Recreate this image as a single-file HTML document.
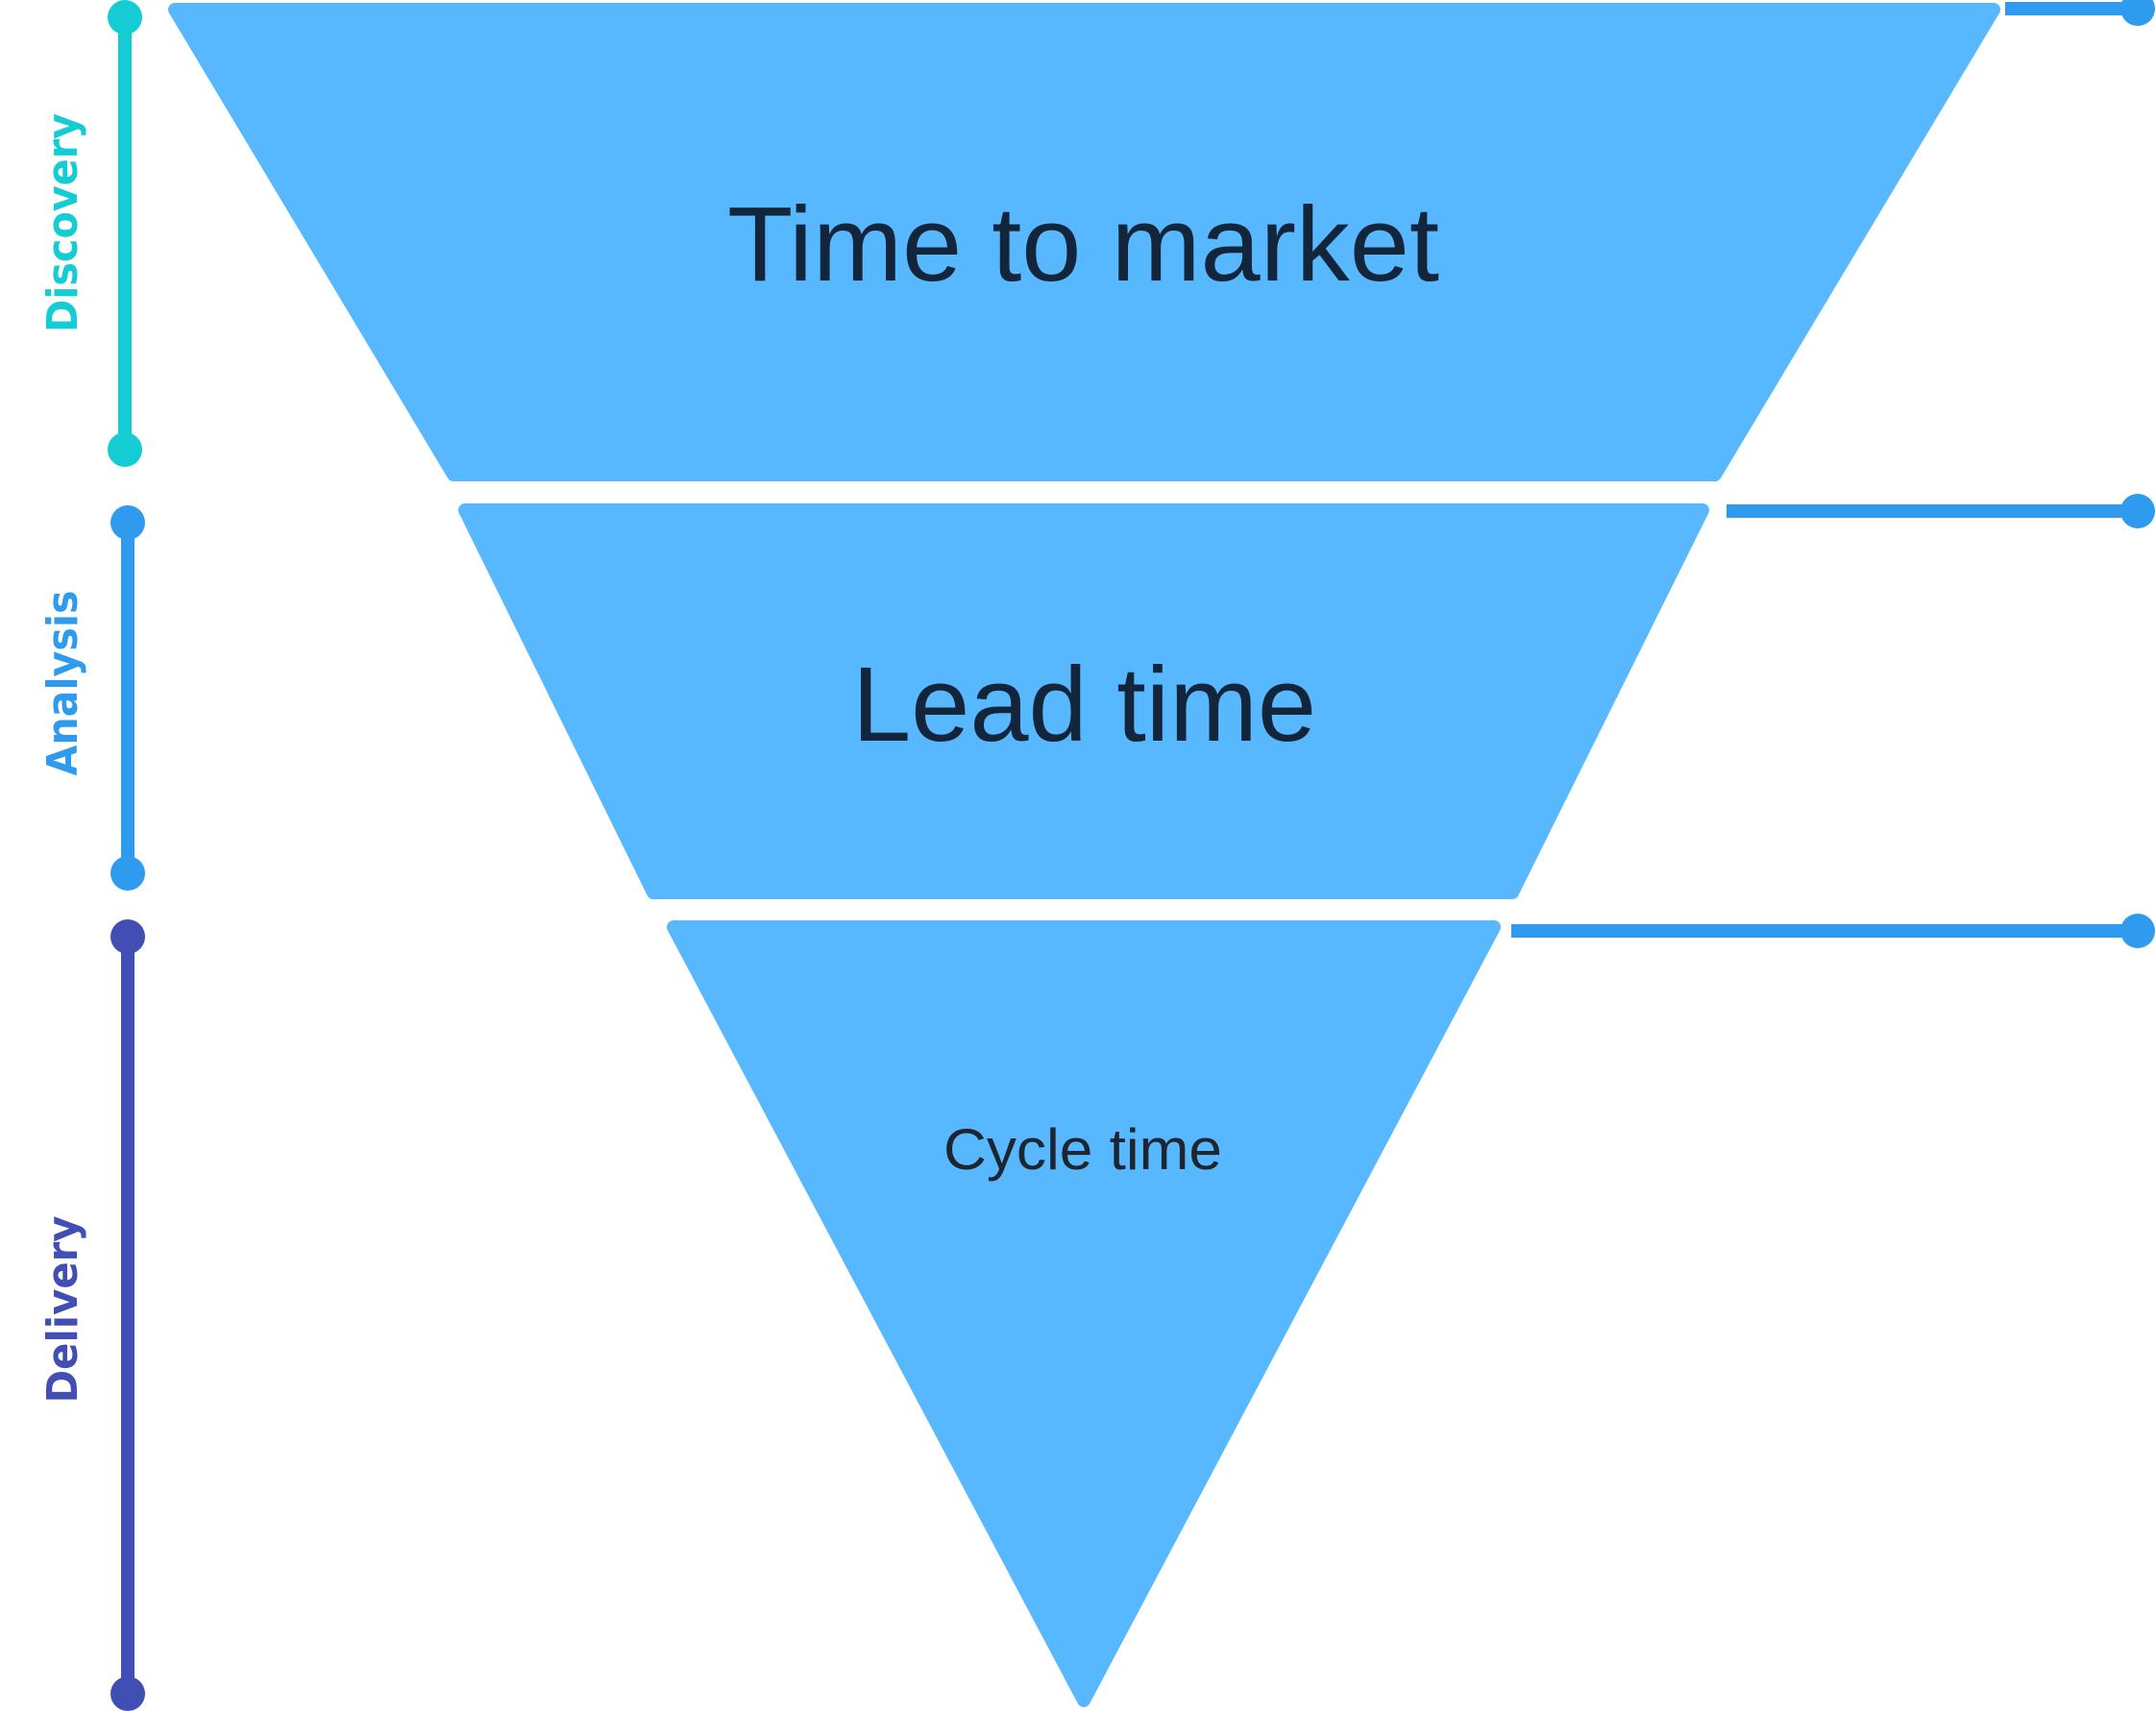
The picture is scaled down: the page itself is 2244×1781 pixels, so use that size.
<!DOCTYPE html>
<html><head><meta charset="utf-8"><style>
html,body{margin:0;padding:0;background:#fff;}
svg{display:block;}
</style></head><body>
<svg width="2244" height="1781" viewBox="0 0 2244 1781" xmlns="http://www.w3.org/2000/svg">
<g fill="#57B8FF" stroke="#57B8FF" stroke-width="14" stroke-linejoin="round">
<polygon points="182,10 2075,10 1785,494 472,494"/>
<polygon points="484,531 1772,531 1574,929 680,929"/>
<polygon points="701,965 1555,965 1128,1770"/>
</g>
<g font-family="Liberation Sans, Arial, sans-serif" fill="#13253A" text-anchor="start">
<text x="757" y="292" font-size="110" textLength="741" lengthAdjust="spacingAndGlyphs">Time to market</text>
<text x="887" y="771" font-size="110" textLength="483" lengthAdjust="spacingAndGlyphs">Lead time</text>
<text x="982" y="1217" font-size="60" fill="#1d2530" textLength="290" lengthAdjust="spacingAndGlyphs">Cycle time</text>
</g>
<!-- right connectors -->
<g fill="#2F9BEE">
<rect x="2087" y="2" width="140" height="14"/>
<circle cx="2225" cy="9" r="18"/>
<rect x="1797" y="525" width="430" height="14"/>
<circle cx="2225" cy="532" r="18"/>
<rect x="1573" y="962" width="654" height="14"/>
<circle cx="2225" cy="969" r="18"/>
</g>
<!-- left brackets -->
<g>
<rect x="123" y="18" width="14" height="450" fill="#14CDD4"/>
<circle cx="130" cy="18" r="18" fill="#14CDD4"/>
<circle cx="130" cy="468" r="18" fill="#14CDD4"/>
<rect x="126" y="544" width="14" height="365" fill="#2F9BEE"/>
<circle cx="133" cy="544" r="18" fill="#2F9BEE"/>
<circle cx="133" cy="909" r="18" fill="#2F9BEE"/>
<rect x="126" y="975" width="14" height="788" fill="#414EB3"/>
<circle cx="133" cy="975" r="18" fill="#414EB3"/>
<circle cx="133" cy="1763" r="18" fill="#414EB3"/>
</g>
<g font-family="DejaVu Sans, Liberation Sans, sans-serif" font-weight="bold" font-size="44" text-anchor="middle">
<text transform="translate(80,232) rotate(-90)" fill="#14CDD4" textLength="228" lengthAdjust="spacingAndGlyphs">Discovery</text>
<text transform="translate(80,711) rotate(-90)" fill="#2F9BEE" textLength="193" lengthAdjust="spacingAndGlyphs">Analysis</text>
<text transform="translate(80,1363) rotate(-90)" fill="#414EB3" textLength="195" lengthAdjust="spacingAndGlyphs">Delivery</text>
</g>
</svg>
</body></html>
